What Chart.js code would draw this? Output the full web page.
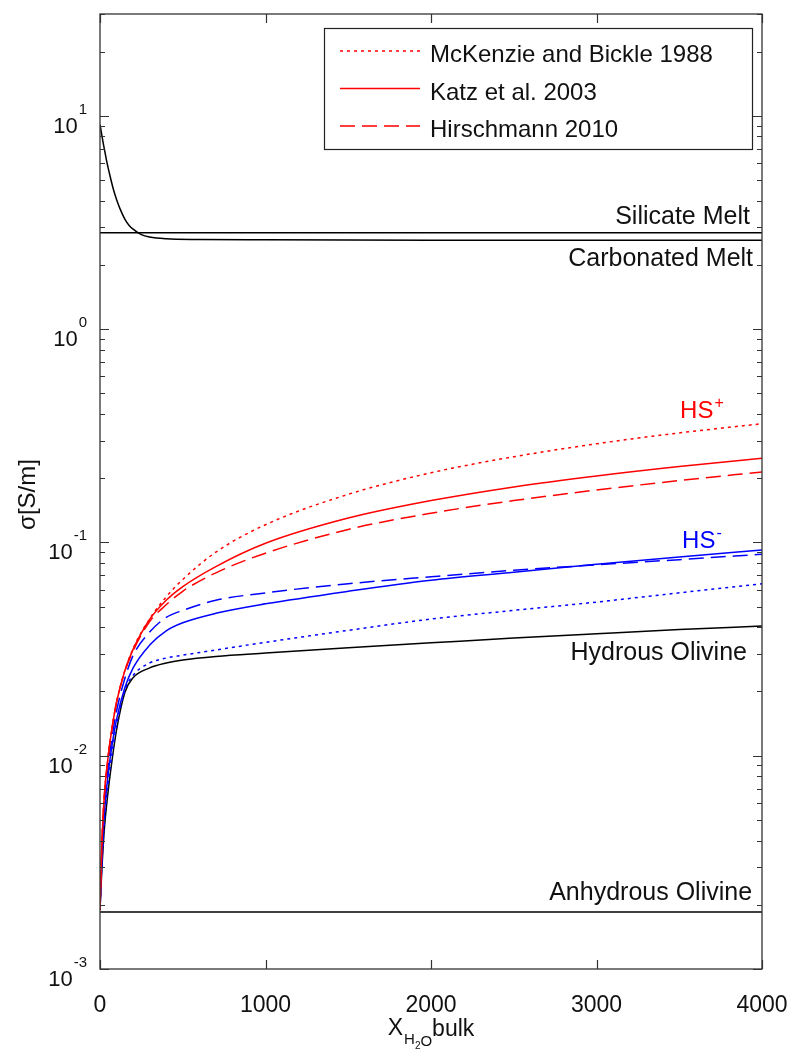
<!DOCTYPE html>
<html><head><meta charset="utf-8">
<script src="https://cdn.jsdelivr.net/npm/chart.js@4/dist/chart.umd.min.js"></script>
<style>html,body{margin:0;padding:0;background:#fff;}#wrap{width:790px;height:1050px;}</style>
</head><body><div id="wrap"><canvas id="c" width="790" height="1050"></canvas></div>
<script>
// ---- data ----
const waterX = [0,10,25,50,75,100,150,200,300,400,500,700,1000,1500,2000,2500,3000,3500,4000];
const mckHSplus   = [0.0019,0.0036,0.0063,0.0100,0.0138,0.0178,0.0250,0.0318,0.0438,0.0555,0.067,0.090,0.121,0.168,0.212,0.252,0.290,0.326,0.360];
const katzHSplus  = [0.0019,0.0036,0.0063,0.0100,0.0138,0.0178,0.0250,0.0315,0.0435,0.0535,0.062,0.077,0.099,0.130,0.157,0.182,0.205,0.227,0.248];
const hirschHSplus= [0.0019,0.0036,0.0063,0.0100,0.0138,0.0178,0.0248,0.0310,0.0425,0.0510,0.059,0.072,0.089,0.115,0.137,0.157,0.176,0.195,0.214];
const mckHSminus  = [0.0019,0.0029,0.0047,0.0075,0.0105,0.0138,0.0202,0.0238,0.0272,0.0287,0.0296,0.0313,0.0340,0.0387,0.0437,0.0480,0.0525,0.0580,0.0640];
const katzHSminus = [0.0019,0.0031,0.0052,0.0083,0.0115,0.0148,0.0208,0.0258,0.0330,0.0385,0.0420,0.0465,0.0515,0.0590,0.0665,0.0725,0.0790,0.0855,0.0920];
const hirschHSminus=[0.0019,0.0033,0.0057,0.0091,0.0125,0.0162,0.0230,0.0295,0.0380,0.0445,0.0480,0.0535,0.0580,0.0640,0.0690,0.0740,0.0785,0.0830,0.0880];
const hydrousOlivine=[0.0019,0.0028,0.0044,0.0069,0.0098,0.0132,0.0198,0.0232,0.0258,0.0272,0.0281,0.0292,0.0303,0.0321,0.0338,0.0356,0.0373,0.0390,0.0405];
const carbX = [0,10,20,30,40,60,80,100,120,150,175,200,250,300,400,600,1000,2000,4000];
const carbonatedMelt = [9.1,8.2,7.4,6.75,6.15,5.25,4.55,4.05,3.68,3.28,3.07,2.94,2.77,2.70,2.65,2.63,2.62,2.61,2.61];
const flatX = [0,4000];
const silicateMelt = [2.83,2.83];
const anhydrousOlivine = [0.00185,0.00185];
const xTicks = [0,1000,2000,3000,4000];
const yDecades = [-3,-2,-1,0,1];
const legendLabels = ['McKenzie and Bickle 1988','Katz et al. 2003','Hirschmann 2010'];

const FONT = '"Liberation Sans", Arial, Helvetica, sans-serif';
const pts = (xs, ys) => xs.map((x,i)=>({x:x, y:ys[i]}));
const RED='#ff0000', BLUE='#0000ff', BLACK='#000000';
const DOT=[3,4], DASH=[15,7];
function ds(label, xs, ys, color, dash, legend){
  return {label, data: pts(xs,ys), borderColor: color, borderWidth: 1.5, borderDash: dash,
    pointRadius: 0, fill: false, cubicInterpolationMode: 'monotone', showInLegend: legend};
}
const datasets = [
  ds(legendLabels[0], waterX, mckHSplus, RED, DOT, true),
  ds(legendLabels[1], waterX, katzHSplus, RED, [], true),
  ds(legendLabels[2], waterX, hirschHSplus, RED, DASH, true),
  ds('McKenzie HS-', waterX, mckHSminus, BLUE, DOT, false),
  ds('Katz HS-', waterX, katzHSminus, BLUE, [], false),
  ds('Hirschmann HS-', waterX, hirschHSminus, BLUE, DASH, false),
  ds('Hydrous Olivine', waterX, hydrousOlivine, BLACK, [], false),
  ds('Carbonated Melt', carbX, carbonatedMelt, BLACK, [], false),
  ds('Silicate Melt', flatX, silicateMelt, BLACK, [], false),
  ds('Anhydrous Olivine', flatX, anhydrousOlivine, BLACK, [], false)
];

function supText(ctx, base, sup, x, y, size, supSize, align, supRise){
  ctx.font = size+'px '+FONT;
  const wb = ctx.measureText(base).width;
  ctx.font = supSize+'px '+FONT;
  const ws = ctx.measureText(sup).width;
  let x0 = x;
  if (align==='right') x0 = x - wb - ws;
  else if (align==='center') x0 = x - (wb+ws)/2;
  ctx.textAlign='left'; ctx.textBaseline='alphabetic';
  ctx.font = size+'px '+FONT; ctx.fillText(base, x0, y);
  ctx.font = supSize+'px '+FONT; ctx.fillText(sup, x0+wb+1, y - supRise);
}

const decor = {
  id: 'decor',
  afterDatasetsDraw(chart){
    const ctx = chart.ctx, a = chart.chartArea;
    const xs = chart.scales.x, ys = chart.scales.y;
    ctx.save();
    ctx.strokeStyle = '#333'; ctx.lineWidth = 1.3; ctx.setLineDash([]);
    ctx.strokeRect(a.left, a.top, a.right-a.left, a.bottom-a.top);
    ctx.lineWidth = 1.2;
    xTicks.forEach(v=>{
      const p = Math.round(xs.getPixelForValue(v))+0.5;
      ctx.beginPath(); ctx.moveTo(p,a.bottom); ctx.lineTo(p,a.bottom-9);
      ctx.moveTo(p,a.top); ctx.lineTo(p,a.top+9); ctx.stroke();
    });
    yDecades.forEach(k=>{
      for (let m=1;m<=9;m++){
        const v = m*Math.pow(10,k);
        if (v > ys.max*1.0001) continue;
        const p = Math.round(ys.getPixelForValue(v))+0.5;
        const len = m===1 ? 9 : 5;
        ctx.beginPath(); ctx.moveTo(a.left,p); ctx.lineTo(a.left+len,p);
        ctx.moveTo(a.right,p); ctx.lineTo(a.right-len,p); ctx.stroke();
      }
    });
    ctx.fillStyle = '#111';
    ctx.font = '23px '+FONT; ctx.textAlign='center'; ctx.textBaseline='alphabetic';
    xTicks.forEach(v=>{ ctx.fillText(String(v), xs.getPixelForValue(v), a.bottom+43); });
    yDecades.forEach(k=>{
      const p = ys.getPixelForValue(Math.pow(10,k));
      supText(ctx, '10', String(k), a.left-14, p+17, 22, 15, 'right', 19);
    });
    // y axis title
    ctx.save();
    ctx.translate(35, (a.top+a.bottom)/2 + 3);
    ctx.rotate(-Math.PI/2);
    ctx.font = '24px '+FONT; ctx.textAlign='center'; ctx.textBaseline='alphabetic';
    ctx.fillText('σ[S/m]', 0, 0);
    ctx.restore();
    // x axis title  X_{H2O}bulk
    {
      const cx = (a.left+a.right)/2, base = a.bottom+66;
      ctx.font='23px '+FONT; const wX = ctx.measureText('X').width, wB = ctx.measureText('bulk').width;
      ctx.font='15px '+FONT; const wH = ctx.measureText('H').width, wO = ctx.measureText('O').width;
      ctx.font='10px '+FONT; const w2 = ctx.measureText('2').width;
      const tot = wX+wH+w2+wO+wB+1;
      let x0 = cx - tot/2;
      ctx.textAlign='left';
      ctx.font='23px '+FONT; ctx.fillText('X', x0, base); x0 += wX+1;
      ctx.font='15px '+FONT; ctx.fillText('H', x0, base+9); x0 += wH;
      ctx.font='10px '+FONT; ctx.fillText('2', x0, base+14); x0 += w2;
      ctx.font='15px '+FONT; ctx.fillText('O', x0, base+11); x0 += wO;
      ctx.font='23px '+FONT; ctx.fillText('bulk', x0, base+1);
    }
    // annotations
    ctx.fillStyle = '#111';
    ctx.font = '25px '+FONT; ctx.textAlign='right'; ctx.textBaseline='alphabetic';
    const ann = [
      ['Silicate Melt', 3927, 3.11],
      ['Carbonated Melt', 3946, 1.97],
      ['Hydrous Olivine', 3909, 0.0281],
      ['Anhydrous Olivine', 3940, 0.0021]
    ];
    ann.forEach(t=> ctx.fillText(t[0], xs.getPixelForValue(t[1]), ys.getPixelForValue(t[2])));
    ctx.fillStyle = RED;
    supText(ctx, 'HS', '+', xs.getPixelForValue(3505), ys.getPixelForValue(0.383), 24, 16, 'left', 10);
    ctx.fillStyle = BLUE;
    supText(ctx, 'HS', '-', xs.getPixelForValue(3517), ys.getPixelForValue(0.094), 24, 16, 'left', 10);
    // legend
    const L = a.right-438, T = a.top+14, W = 428, H = 121;
    ctx.fillStyle='#fff'; ctx.fillRect(L,T,W,H);
    ctx.strokeStyle='#222'; ctx.lineWidth=1.2; ctx.setLineDash([]);
    ctx.strokeRect(L+0.5,T+0.5,W,H);
    const legendSets = chart.data.datasets.filter(d=>d.showInLegend);
    legendSets.forEach((d,i)=>{
      const yy = T + 23 + i*37.5;
      ctx.strokeStyle=d.borderColor; ctx.lineWidth=d.borderWidth; ctx.setLineDash(d.borderDash||[]);
      ctx.beginPath(); ctx.moveTo(L+16,yy); ctx.lineTo(L+96,yy); ctx.stroke();
      ctx.setLineDash([]);
      ctx.fillStyle='#111'; ctx.font='24px '+FONT; ctx.textAlign='left';
      ctx.fillText(d.label, L+106, yy+11);
    });
    ctx.restore();
  }
};

new Chart(document.getElementById('c'), {
  type: 'line',
  data: { datasets },
  options: {
    responsive: false, animation: false, devicePixelRatio: 1,
    layout: { padding: { left: 100, top: 14, right: 28, bottom: 81 } },
    plugins: { legend: { display: false }, tooltip: { enabled: false } },
    scales: {
      x: { type: 'linear', min: 0, max: 4000, display: false },
      y: { type: 'logarithmic', min: 0.001, max: 30, display: false }
    }
  },
  plugins: [decor]
});
</script></body></html>
